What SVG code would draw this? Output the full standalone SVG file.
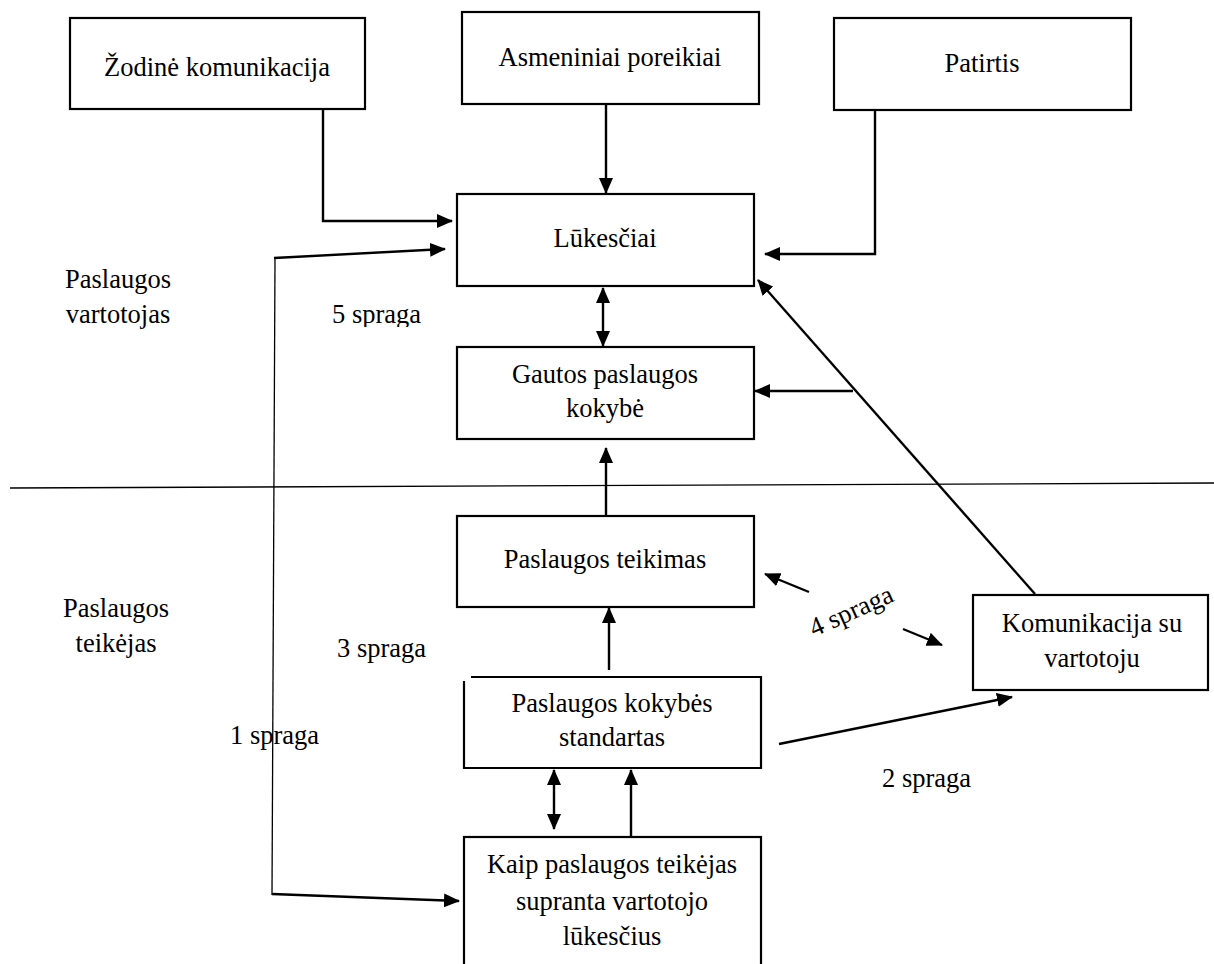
<svg xmlns="http://www.w3.org/2000/svg" width="1214" height="964" viewBox="0 0 1214 964">
<style>
  .box { fill: #fff; stroke: #000; stroke-width: 2.2; }
  .con { fill: none; stroke: #000; stroke-width: 2.4; }
  .thin { fill: none; stroke: #000; stroke-width: 1.3; }
</style>
<defs>
  <marker id="ah" markerUnits="userSpaceOnUse" markerWidth="16" markerHeight="14" refX="15" refY="7" orient="auto-start-reverse">
    <path d="M0,0 L16,7 L0,14 z" fill="#000"/>
  </marker>
  <clipPath id="clip5"><rect x="300" y="290" width="160" height="37"/></clipPath>
</defs>
<rect width="1214" height="964" fill="#fff"/>

<g id="labels" font-family="Liberation Serif" font-size="26.5" fill="#000">
  <text x="118" y="288" text-anchor="middle" font-family="Liberation Serif" font-size="26.5">Paslaugos</text>
  <text x="118" y="323" text-anchor="middle" font-family="Liberation Serif" font-size="26.5">vartotojas</text>
  <text x="116" y="617" text-anchor="middle" font-family="Liberation Serif" font-size="26.5">Paslaugos</text>
  <text x="116" y="652" text-anchor="middle" font-family="Liberation Serif" font-size="26.5">teikėjas</text>
  <text x="332" y="323" clip-path="url(#clip5)" font-family="Liberation Serif" font-size="26.5">5 spraga</text>
  <text x="337" y="657" font-family="Liberation Serif" font-size="26.5">3 spraga</text>
  <text x="230" y="744" font-family="Liberation Serif" font-size="26.5">1 spraga</text>
  <text x="882" y="787" font-family="Liberation Serif" font-size="26.5">2 spraga</text>
  <text x="814" y="637" transform="rotate(-24 814 637)" font-family="Liberation Serif" font-size="26.5">4 spraga</text>
</g>

<g id="connectors">
  <line class="thin" x1="10" y1="488" x2="1214" y2="483"/>
  <line class="thin" x1="275" y1="259" x2="272" y2="895"/>
  <polyline class="con" points="323,109 323,221 452,221" marker-end="url(#ah)"/>
  <line class="con" x1="606" y1="104" x2="606" y2="193" marker-end="url(#ah)"/>
  <polyline class="con" points="875,110 875,254 765,254" marker-end="url(#ah)"/>
  <line class="con" x1="274" y1="258" x2="445" y2="249" marker-end="url(#ah)"/>
  <line class="con" x1="603" y1="288" x2="603" y2="346" marker-start="url(#ah)" marker-end="url(#ah)"/>
  <line class="con" x1="853" y1="391" x2="755" y2="391" marker-end="url(#ah)"/>
  <line class="con" x1="1035" y1="594" x2="758" y2="280" marker-end="url(#ah)"/>
  <line class="con" x1="606" y1="516" x2="606" y2="448" marker-end="url(#ah)"/>
  <line class="con" x1="609" y1="670" x2="609" y2="608" marker-end="url(#ah)"/>
  <line class="con" x1="809" y1="592" x2="765" y2="574" marker-end="url(#ah)"/>
  <line class="con" x1="903" y1="629" x2="942" y2="645" marker-end="url(#ah)"/>
  <line class="con" x1="779" y1="744" x2="1012" y2="697" marker-end="url(#ah)"/>
  <line class="con" x1="554" y1="770" x2="554" y2="829" marker-start="url(#ah)" marker-end="url(#ah)"/>
  <line class="con" x1="631" y1="836" x2="631" y2="770" marker-end="url(#ah)"/>
  <line class="con" x1="272" y1="894" x2="459" y2="901" marker-end="url(#ah)"/>
</g>

<g id="zodine">
  <rect class="box" x="70" y="18" width="295" height="91"/>
  <text x="217" y="76" text-anchor="middle" font-family="Liberation Serif" font-size="26.5">Žodinė komunikacija</text>
</g>
<g id="asmeniniai">
  <rect class="box" x="462" y="12" width="297" height="92"/>
  <text x="610" y="66" text-anchor="middle" font-family="Liberation Serif" font-size="26.5">Asmeniniai poreikiai</text>
</g>
<g id="patirtis">
  <rect class="box" x="834" y="18" width="297" height="92"/>
  <text x="982" y="72" text-anchor="middle" font-family="Liberation Serif" font-size="26.5">Patirtis</text>
</g>
<g id="lukesciai">
  <rect class="box" x="457" y="194" width="297" height="92"/>
  <text x="605" y="247" text-anchor="middle" font-family="Liberation Serif" font-size="26.5">Lūkesčiai</text>
</g>
<g id="gautos">
  <rect class="box" x="457" y="347" width="297" height="92"/>
  <text x="605" y="383" text-anchor="middle" font-family="Liberation Serif" font-size="26.5">Gautos paslaugos</text>
  <text x="605" y="417" text-anchor="middle" font-family="Liberation Serif" font-size="26.5">kokybė</text>
</g>
<g id="teikimas">
  <rect class="box" x="457" y="516" width="297" height="91"/>
  <text x="605" y="568" text-anchor="middle" font-family="Liberation Serif" font-size="26.5">Paslaugos teikimas</text>
</g>
<g id="standartas">
  <path class="box" d="M464,681 V768 H761 V677 H471"/>
  <text x="612" y="712" text-anchor="middle" font-family="Liberation Serif" font-size="26.5">Paslaugos kokybės</text>
  <text x="612" y="746" text-anchor="middle" font-family="Liberation Serif" font-size="26.5">standartas</text>
</g>
<g id="komunikacija">
  <rect class="box" x="973" y="595" width="235" height="95"/>
  <text x="1092" y="632" text-anchor="middle" font-family="Liberation Serif" font-size="26.5">Komunikacija su</text>
  <text x="1092" y="667" text-anchor="middle" font-family="Liberation Serif" font-size="26.5">vartotoju</text>
</g>
<g id="kaip">
  <rect class="box" x="464" y="837" width="297" height="140"/>
  <text x="612" y="873" text-anchor="middle" font-family="Liberation Serif" font-size="26.5">Kaip paslaugos teikėjas</text>
  <text x="612" y="910" text-anchor="middle" font-family="Liberation Serif" font-size="26.5">supranta vartotojo</text>
  <text x="612" y="945" text-anchor="middle" font-family="Liberation Serif" font-size="26.5">lūkesčius</text>
</g>
</svg>
